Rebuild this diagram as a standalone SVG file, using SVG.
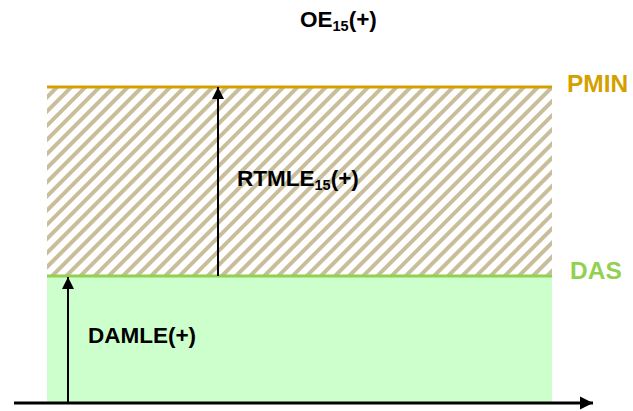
<svg xmlns="http://www.w3.org/2000/svg" width="633" height="411" viewBox="0 0 633 411">
<style>
.lbl{font-family:"Liberation Sans",Arial,sans-serif;font-weight:bold;font-size:22.5px;fill:#000}
.big{font-size:24.5px}
.sub{font-size:14.5px}
.ax{stroke:#000;stroke-width:2;fill:none}
</style>
<defs>
<pattern id="hatch" patternUnits="userSpaceOnUse" width="10" height="10" patternTransform="rotate(45)">
<rect width="10" height="10" fill="#fff"/>
<rect x="0" y="0" width="4" height="10" fill="#C9BE9B"/>
</pattern>
<marker id="ah" viewBox="0 0 10 10" refX="10" refY="5" markerWidth="6" markerHeight="6" markerUnits="strokeWidth" orient="auto">
<path d="M0,0 L10,5 L0,10 z" fill="#000"/>
</marker>
<marker id="ah2" viewBox="0 0 10 10" refX="10" refY="5" markerWidth="4.5" markerHeight="4.5" markerUnits="strokeWidth" orient="auto">
<path d="M0,0 L10,5 L0,10 z" fill="#000"/>
</marker>
</defs>
<g id="hatched-zone"><rect x="47" y="87" width="505" height="189" fill="url(#hatch)"/></g>
<g id="green-zone"><rect x="47" y="276" width="505" height="126" fill="#CCFFCC"/></g>
<g id="pmin"><line x1="47" y1="87" x2="552" y2="87" stroke="#D4A000" stroke-width="3"/>
<text x="567" y="92" class="lbl big" style="fill:#D4A000">PMIN</text></g>
<g id="das"><line x1="47" y1="276" x2="552" y2="276" stroke="#92D050" stroke-width="3"/>
<text x="570" y="279" class="lbl big" style="fill:#92D050">DAS</text></g>
<g id="title"><text x="300" y="27" class="lbl">OE<tspan class="sub" dy="4">15</tspan><tspan dy="-4">(+)</tspan></text></g>
<g id="connectors">
<line x1="14" y1="403" x2="593" y2="403" stroke="#000" stroke-width="3" marker-end="url(#ah2)"/>
<line x1="218" y1="276" x2="218" y2="87" class="ax" marker-end="url(#ah)"/>
<line x1="68" y1="403" x2="68" y2="277" class="ax" marker-end="url(#ah)"/>
</g>
<g id="rtmle"><text x="237" y="186" class="lbl">RTMLE<tspan class="sub" dy="4">15</tspan><tspan dy="-4">(+)</tspan></text></g>
<g id="damle"><text x="88" y="343" class="lbl">DAMLE(+)</text></g>
</svg>
